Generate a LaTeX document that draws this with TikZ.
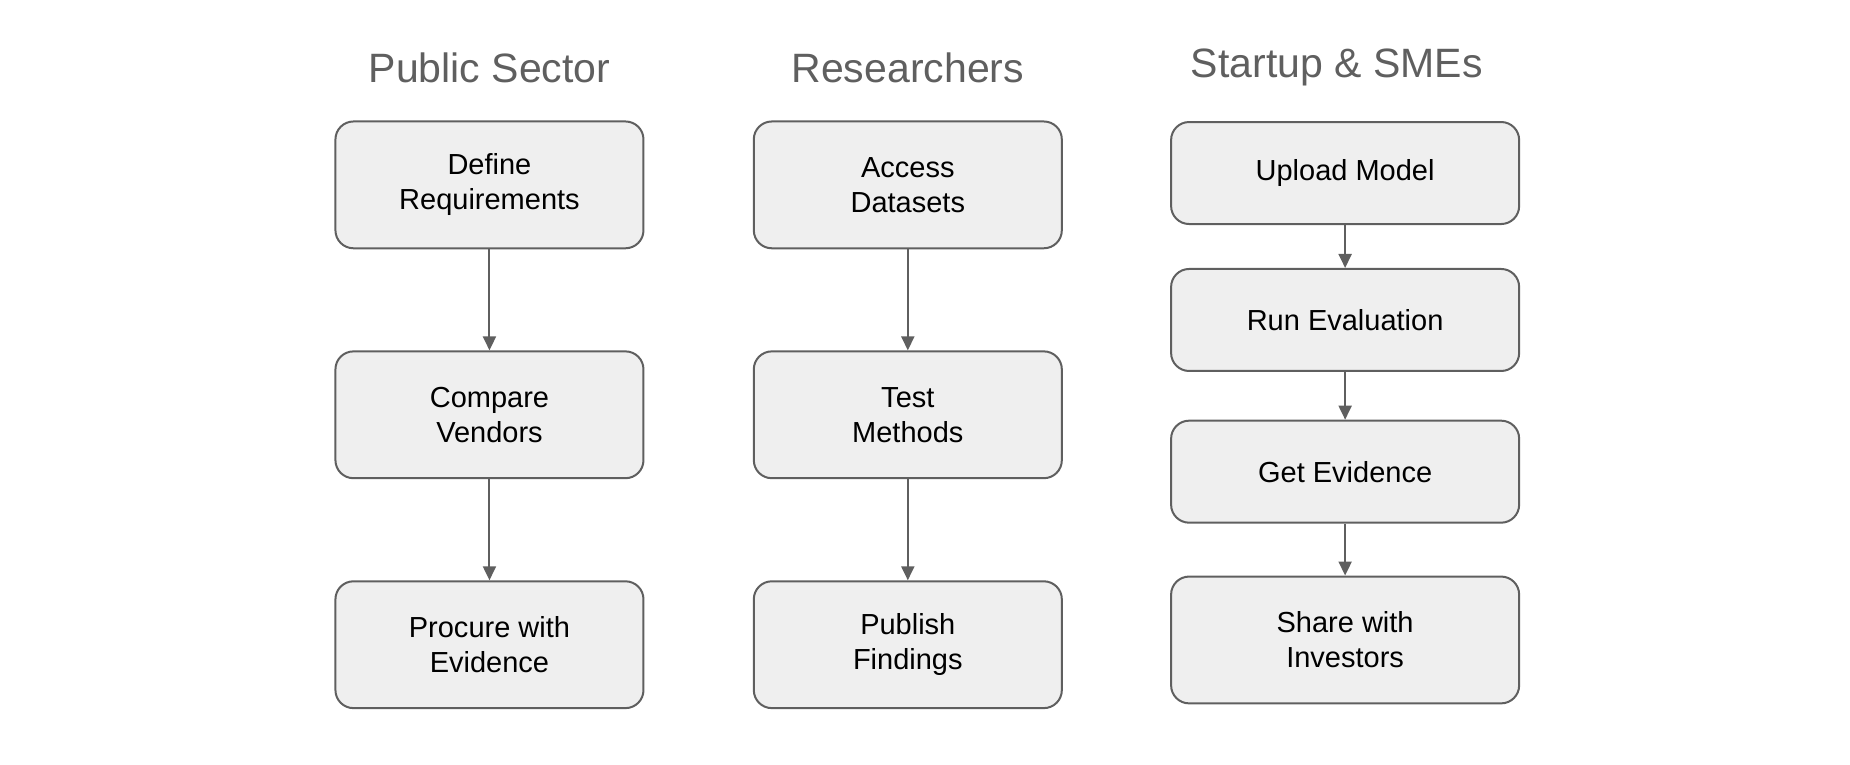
\documentclass[tikz,border=0pt]{standalone}
\usepackage{fontspec}
\setmainfont{Liberation Sans}
\usetikzlibrary{arrows.meta}
\definecolor{boxgray}{HTML}{EFEFEF}
\definecolor{linegray}{HTML}{5F5F5F}
\tikzset{
  stage/.style={draw=linegray, fill=boxgray, line width=1pt, rounded corners=9pt,
    align=center, font=\fontsize{14.5}{17.5}\selectfont, inner sep=2pt},
  tall/.style={stage, minimum width=154pt, minimum height=63.4pt},
  flat/.style={stage, minimum width=174pt, minimum height=51pt},
  heading/.style={text=linegray, font=\fontsize{20.5}{24}\selectfont},
  flow/.style={draw=linegray, line width=1pt, -{Triangle[length=7pt,width=6.5pt]}}
}
\begin{document}
\begin{tikzpicture}[x=0.5925pt, y=-0.5925pt]
\useasboundingbox (0,0) rectangle (1561,645);
% column headings
\node[heading] (hpub) at (413,57) {Public Sector};
\node[heading] (hres) at (766,57) {Researchers};
\node[heading] (hsme) at (1128,57) {Startup \& SMEs};
% public sector
\node[tall] (define) at (413,156) {Define\\Requirements};
\node[tall] (compare) at (413,350) {Compare\\Vendors};
\node[tall] (procure) at (413,544) {Procure with\\Evidence};
% researchers
\node[tall] (access) at (766,156) {Access\\Datasets};
\node[tall] (test) at (766,350) {Test\\Methods};
\node[tall] (publish) at (766,544) {Publish\\Findings};
% startups
\node[flat] (upload) at (1135,146) {Upload Model};
\node[flat] (run) at (1135,270) {Run Evaluation};
\node[flat] (get) at (1135,398) {Get Evidence};
\node[tall, minimum width=174pt] (share) at (1135,540) {Share with\\Investors};
% arrows
\draw[flow] (define) -- (compare);
\draw[flow] (compare) -- (procure);
\draw[flow] (access) -- (test);
\draw[flow] (test) -- (publish);
\draw[flow] (upload) -- (run);
\draw[flow] (run) -- (get);
\draw[flow] (get) -- (share);
\end{tikzpicture}
\end{document}
